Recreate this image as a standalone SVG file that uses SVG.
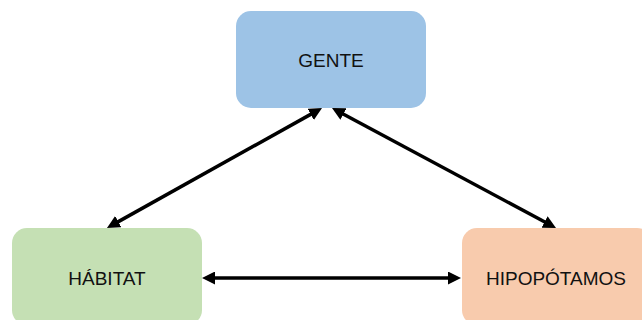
<svg xmlns="http://www.w3.org/2000/svg" width="642" height="320" viewBox="0 0 642 320">
  <style>
    .box { stroke: none; }
    .label { font-family: "Liberation Sans", Arial, sans-serif; font-size: 19px; fill: #111; text-anchor: middle; }
    .link { stroke: #000; stroke-width: 3.5; fill: none; marker-start: url(#head); marker-end: url(#head); }
  </style>
  <defs>
    <marker id="head" viewBox="0 0 13 13" markerWidth="13" markerHeight="13" refX="3" refY="6.5" markerUnits="userSpaceOnUse" orient="auto-start-reverse">
      <path d="M0,0 L13,6.5 L0,13 z" fill="#000"/>
    </marker>
  </defs>
  <rect width="642" height="320" fill="#fff"/>

  <g id="connectors">
    <line class="link" x1="313.3" y1="112.9" x2="115.7" y2="223.1"/>
    <line class="link" x1="340.8" y1="112.7" x2="547.2" y2="223.3"/>
    <line class="link" x1="212" y1="278" x2="451" y2="278"/>
  </g>

  <g id="gente">
    <rect class="box" x="236" y="11" width="190" height="97" rx="15" fill="#9DC3E6"/>
    <text class="label" x="331" y="67">GENTE</text>
  </g>

  <g id="habitat">
    <rect class="box" x="12" y="228" width="190" height="97" rx="15" fill="#C5E0B4"/>
    <text class="label" x="107" y="285">HÁBITAT</text>
  </g>

  <g id="hipopotamos">
    <rect class="box" x="462" y="228" width="190" height="97" rx="15" fill="#F8CBAD"/>
    <text class="label" x="556" y="285">HIPOPÓTAMOS</text>
  </g>
</svg>
